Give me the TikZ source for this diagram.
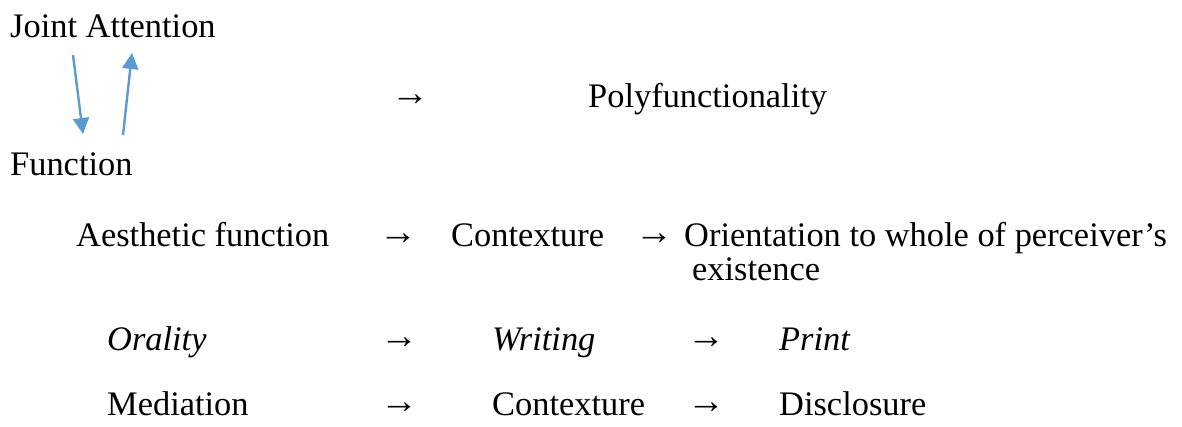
\documentclass[tikz,border=0pt]{standalone}
\usepackage{fontspec}
\setmainfont{Liberation Serif}
\usetikzlibrary{arrows.meta}
\definecolor{arrowblue}{HTML}{5B9BD5}
\tikzset{
  txt/.style={anchor=base west, inner sep=0pt, font=\fontsize{34.4}{40}\selectfont},
  arr/.style={anchor=base west, inner sep=0pt, font=\fontsize{38}{40}\selectfont},
  blue arrow/.style={draw=arrowblue, line width=2.4pt, -{Triangle[length=16pt,width=16pt]}}
}
\begin{document}
\begin{tikzpicture}[x=1pt,y=-1pt]
\useasboundingbox (0,0) rectangle (1182,426);
\node[txt] (ja) at (10,37) {Joint Attention};
\node[txt] (fn) at (10,175) {Function};
\coordinate (a1s) at (73,55);
\coordinate (a1e) at (83,134);
\coordinate (a2s) at (123,135);
\coordinate (a2e) at (132,53);
\draw[blue arrow] (a1s) -- (a1e);
\draw[blue arrow] (a2s) -- (a2e);
\node[arr] (r1a) at (391,105) {→};
\node[txt] (poly) at (588,107) {Polyfunctionality};
\node[txt] (aes) at (76,246) {Aesthetic function};
\node[arr] (r2a) at (379,244) {→};
\node[txt] (ctx1) at (451,246) {Contexture};
\node[arr] (r2b) at (635,244) {→};
\node[txt] (ori) at (684,246) {Orientation to whole of perceiver’s};
\node[txt] (exi) at (692,280) {existence};
\node[txt] (ora) at (107,350) {\itshape Orality};
\node[arr] (r3a) at (380,348) {→};
\node[txt] (wri) at (492,350) {\itshape Writing};
\node[arr] (r3b) at (687,348) {→};
\node[txt] (pri) at (779,350) {\itshape Print};
\node[txt] (med) at (107,415) {Mediation};
\node[arr] (r4a) at (380,413) {→};
\node[txt] (ctx2) at (492,415) {Contexture};
\node[arr] (r4b) at (687,413) {→};
\node[txt] (dis) at (779,415) {Disclosure};
\end{tikzpicture}
\end{document}
